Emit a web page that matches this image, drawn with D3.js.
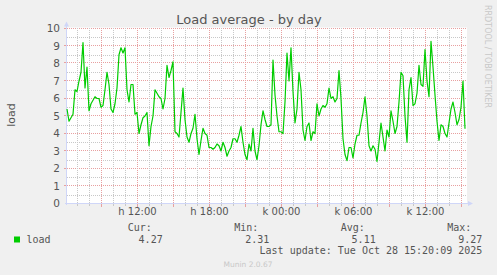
<!DOCTYPE html>
<html>
<head>
<meta charset="utf-8">
<script src="https://cdn.jsdelivr.net/npm/d3@7"></script>
<style>
  html, body { margin: 0; padding: 0; background: #f0f0f0; }
  svg { display: block; }
</style>
</head>
<body>
<div id="chart"></div>
<script>
// load samples, one every 10 minutes from Mon 27 Oct 06:10 to Tue 28 Oct 15:20
const startTime = new Date(2025, 9, 27, 6, 10);
const stepMinutes = 10;
const loadValues = [
  5.4, 4.7, 4.9, 5.1, 6.5, 6.4, 7.0, 7.5, 9.2, 6.6,
  7.8, 5.3, 5.7, 5.9, 6.1, 6.0, 6.0, 5.5, 5.6, 6.5,
  7.5, 6.8, 5.4, 5.2, 5.7, 6.6, 8.5, 8.9, 8.6, 8.9,
  6.5, 5.8, 6.8, 6.8, 5.1, 5.2, 4.0, 4.5, 4.9, 5.0,
  5.2, 3.3, 4.4, 5.0, 6.5, 6.3, 6.1, 6.0, 5.4, 6.0,
  7.9, 7.2, 7.6, 8.1, 4.1, 4.0, 3.8, 5.2, 6.6, 4.8,
  3.8, 3.5, 4.0, 4.3, 5.1, 3.7, 2.8, 3.6, 4.3, 4.0,
  3.9, 3.2, 3.2, 3.1, 3.2, 3.4, 3.3, 3.0, 3.5, 3.2,
  2.7, 3.0, 3.2, 3.7, 3.7, 3.5, 3.9, 4.4, 3.5, 2.8,
  2.5, 3.4, 3.0, 4.3, 3.0, 2.5, 3.3, 4.5, 5.3, 4.8,
  4.4, 4.4, 4.5, 8.2, 6.2, 5.0, 4.1, 4.1, 4.0, 5.8,
  8.6, 7.0, 8.9, 6.4, 4.6, 5.4, 7.5, 6.5, 4.2, 3.6,
  4.4, 4.6, 3.6, 4.1, 4.0, 5.7, 5.0, 5.4, 5.6, 5.5,
  5.7, 6.6, 6.0, 6.1, 5.8, 6.0, 7.6, 6.0, 3.7, 2.8,
  2.45, 3.2, 3.2, 2.6, 3.4, 3.9, 3.9, 4.6, 5.2, 6.1,
  5.0, 3.3, 3.0, 3.3, 3.1, 2.4, 3.5, 4.6, 3.8, 3.0,
  4.2, 3.8, 5.3, 4.7, 4.0, 4.4, 5.8, 7.5, 7.3, 5.0,
  3.5, 6.5, 7.2, 5.6, 5.7, 6.3, 7.9, 6.8, 6.7, 8.8,
  7.0, 6.1, 9.27, 7.8, 6.2, 4.7, 3.6, 4.5, 4.4, 4.0,
  3.8, 4.6, 5.4, 5.8, 5.2, 4.5, 4.8, 5.5, 7.0, 4.27
];

const yTicks = [0, 1, 2, 3, 4, 5, 6, 7, 8, 9, 10];
const xTickTimes = [
  new Date(2025, 9, 27, 12), new Date(2025, 9, 27, 18),
  new Date(2025, 9, 28, 0), new Date(2025, 9, 28, 6), new Date(2025, 9, 28, 12)
];
const xTickLabels = ["h 12:00", "h 18:00", "k 00:00", "k 06:00", "k 12:00"];

const statNames = ["Cur:", "Min:", "Avg:", "Max:"];
const statValues = ["4.27", "2.31", "5.11", "9.27"];

const chartOptions = {
  width: 497,
  height: 275,
  left: 67, right: 467, top: 28.5, bottom: 203.5,
  title: "Load average - by day",
  y_axis_title: "load",
  series_name: "load",
  last_update: "Last update: Tue Oct 28 15:20:09 2025",
  footer: "Munin 2.0.67",
  watermark: "RRDTOOL / TOBI OETIKER"
};

const lineColor = "#00cc00";
const fontColor = "#555555";
const axisColor = "#cfd6f8";

const chartData = loadValues.map((v, i) => ({
  date: new Date(startTime.getTime() + i * stepMinutes * 60000),
  value: v
}));

const o = chartOptions;
const svg = d3.select("#chart").append("svg")
  .attr("width", o.width)
  .attr("height", o.height)
  .style("font-family", "'DejaVu Sans', sans-serif");

svg.append("rect").attr("width", o.width).attr("height", o.height).attr("fill", "#f0f0f0");

const xScale = d3.scaleTime()
  .domain([new Date(2025, 9, 27, 6, 10), new Date(2025, 9, 28, 15, 30)])
  .range([o.left, o.right]);

const yScale = d3.scaleLinear()
  .domain([0, 10])
  .range([o.bottom, o.top]);

// canvas
svg.append("rect")
  .attr("x", o.left).attr("y", o.top - 1)
  .attr("width", o.right - o.left).attr("height", o.bottom - o.top + 1)
  .attr("fill", "#ffffff");

const grid = svg.append("g").attr("shape-rendering", "crispEdges");

// horizontal grid: minor every 0.5, major on integers
d3.range(0.5, 10, 1).forEach(v => {
  const y = Math.round(yScale(v)) + 0.5;
  grid.append("line").attr("x1", o.left).attr("x2", o.right).attr("y1", y).attr("y2", y)
    .attr("stroke", "#c8c8c8").attr("stroke-dasharray", "1,1");
});
yTicks.slice(1).forEach(v => {
  const y = Math.round(yScale(v)) - 0.5;
  grid.append("line").attr("x1", o.left).attr("x2", o.right).attr("y1", y).attr("y2", y)
    .attr("stroke", "#e8a0a0").attr("stroke-dasharray", "1,1");
  grid.append("line").attr("x1", o.left - 3).attr("x2", o.left).attr("y1", y).attr("y2", y)
    .attr("stroke", "#e8a0a0");
});

// vertical grid: minor every hour, major every 3 hours
const hours = d3.timeHour.range(xScale.domain()[0], xScale.domain()[1]);
hours.forEach(h => {
  const x = Math.round(xScale(h)) + 0.5;
  if (x <= o.left + 1) return;
  const major = h.getHours() % 3 === 0;
  grid.append("line").attr("x1", x).attr("x2", x).attr("y1", o.top - 1).attr("y2", o.bottom)
    .attr("stroke", major ? "#e8a0a0" : "#c8c8c8").attr("stroke-dasharray", "1,1");
  grid.append("line").attr("x1", x).attr("x2", x).attr("y1", o.bottom).attr("y2", o.bottom + (major ? 3 : 2))
    .attr("stroke", major ? "#e8a0a0" : "#c8c8c8");
});

// axes with arrows
grid.append("line").attr("x1", o.left - 0.5).attr("x2", o.left - 0.5).attr("y1", o.bottom + 1).attr("y2", 24)
  .attr("stroke", axisColor);
grid.append("line").attr("x1", o.left - 2).attr("x2", 470).attr("y1", o.bottom).attr("y2", o.bottom)
  .attr("stroke", axisColor);
svg.append("path").attr("d", "M64,26.5 L69,26.5 L66.5,21.5 Z").attr("fill", axisColor);
svg.append("path").attr("d", "M468,201 L468,206 L473,203.5 Z").attr("fill", axisColor);

// y tick labels
svg.append("g").selectAll("text").data(yTicks).join("text")
  .attr("x", 60).attr("y", d => yScale(d))
  .attr("dy", "0.36em")
  .attr("text-anchor", "end")
  .attr("font-size", 10.5)
  .attr("fill", fontColor)
  .text(d => d);

// x tick labels
svg.append("g").selectAll("text").data(xTickTimes).join("text")
  .attr("x", d => Math.round(xScale(d)) + 0.5).attr("y", 215)
  .attr("text-anchor", "middle")
  .attr("font-size", 10)
  .attr("fill", fontColor)
  .text((d, i) => xTickLabels[i]);

// load line
const line = d3.line()
  .x(d => xScale(d.date))
  .y(d => yScale(d.value));

svg.append("path")
  .datum(chartData)
  .attr("fill", "none")
  .attr("stroke", lineColor)
  .attr("stroke-width", 1.2)
  .attr("stroke-linejoin", "round")
  .attr("d", line);

// title and axis title
svg.append("text")
  .attr("x", 249).attr("y", 23.5)
  .attr("text-anchor", "middle")
  .attr("font-size", 13)
  .attr("fill", fontColor)
  .text(o.title);

svg.append("text")
  .attr("transform", "translate(15,115) rotate(-90)")
  .attr("text-anchor", "middle")
  .attr("font-size", 11)
  .attr("fill", fontColor)
  .text(o.y_axis_title);

svg.append("text")
  .attr("transform", "translate(484.5,5) rotate(90)")
  .attr("text-anchor", "start")
  .attr("font-size", 8)
  .attr("fill", "#c8c8c8")
  .text(o.watermark);

// legend
const mono = "'DejaVu Sans Mono', monospace";
const statRight = [162.7, 269.3, 375.7, 482.3];

svg.append("rect")
  .attr("x", 14).attr("y", 236.5).attr("width", 6).attr("height", 6)
  .attr("fill", lineColor);

svg.append("text")
  .attr("x", 26.5).attr("y", 242.5)
  .attr("font-family", mono).attr("font-size", 10)
  .attr("fill", fontColor)
  .text(o.series_name);

svg.append("g").selectAll("text").data(statNames).join("text")
  .attr("x", (d, i) => statRight[i] - 35).attr("y", 231)
  .attr("font-family", mono).attr("font-size", 10)
  .attr("fill", fontColor)
  .text(d => d);

svg.append("g").selectAll("text").data(statValues).join("text")
  .attr("x", (d, i) => statRight[i]).attr("y", 242.5)
  .attr("text-anchor", "end")
  .attr("font-family", mono).attr("font-size", 10)
  .attr("fill", fontColor)
  .text(d => d);

svg.append("text")
  .attr("x", 482.3).attr("y", 254)
  .attr("text-anchor", "end")
  .attr("font-family", mono).attr("font-size", 10)
  .attr("fill", fontColor)
  .text(o.last_update);

svg.append("text")
  .attr("x", 248).attr("y", 266.5)
  .attr("text-anchor", "middle")
  .attr("font-size", 7.5)
  .attr("fill", "#c8c8c8")
  .text(o.footer);
</script>
</body>
</html>
